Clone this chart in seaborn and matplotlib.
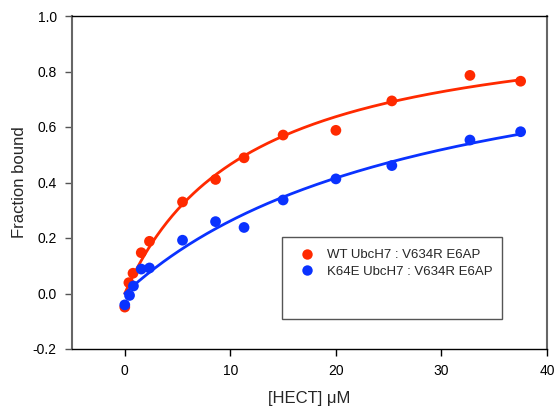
import numpy as np
import pandas as pd
import seaborn as sns
import matplotlib
matplotlib.use("Agg")
import matplotlib.pyplot as plt
from matplotlib.lines import Line2D
from matplotlib.patches import Rectangle

# HECT concentration (uM) and measured fraction bound
hect_wt = [0.0, 0.39, 0.78, 1.56, 2.34, 5.47, 8.6, 11.3, 15.0, 20.0, 25.3, 32.7, 37.5]
bound_wt = [-0.049, 0.039, 0.073, 0.147, 0.188, 0.330, 0.411, 0.489, 0.571, 0.588, 0.694, 0.786, 0.765]

hect_k64e = [0.0, 0.45, 0.82, 1.56, 2.34, 5.47, 8.6, 11.3, 15.0, 20.0, 25.3, 32.7, 37.5]
bound_k64e = [-0.041, -0.007, 0.027, 0.088, 0.092, 0.192, 0.259, 0.238, 0.337, 0.413, 0.461, 0.553, 0.583]

labels = ["WT UbcH7 : V634R E6AP", "K64E UbcH7 : V634R E6AP"]
colors = ["#ff2a00", "#0a32ff"]

x_ticks = [0, 10, 20, 30, 40]
y_ticks = [-0.2, 0.0, 0.2, 0.4, 0.6, 0.8, 1.0]


def fit_binding(x, y):
    """Least-squares single-site binding fit y = Bmax*x/(Kd+x)."""
    x = np.asarray(x, float)
    y = np.asarray(y, float)
    best = None
    for kd in np.linspace(0.5, 100, 4000):
        f = x / (kd + x)
        bmax = np.dot(f, y) / np.dot(f, f)
        err = np.sum((y - bmax * f) ** 2)
        if best is None or err < best[0]:
            best = (err, bmax, kd)
    return best[1], best[2]


df = pd.concat([
    pd.DataFrame({"hect": hect_wt, "bound": bound_wt, "series": labels[0]}),
    pd.DataFrame({"hect": hect_k64e, "bound": bound_k64e, "series": labels[1]}),
])

sns.set_theme(style="ticks")
plt.rcParams["font.family"] = ["Liberation Sans", "DejaVu Sans"]

W, H = 557, 412
fig = plt.figure(figsize=(W / 100, H / 100), dpi=100)
ax = fig.add_axes([72 / W, 1 - 349 / H, (547 - 72) / W, (349 - 16) / H])

for xs, ys, lab, col in zip([hect_wt, hect_k64e], [bound_wt, bound_k64e], labels, colors):
    bmax, kd = fit_binding(xs, ys)
    xf = np.linspace(0, max(xs), 300)
    ax.plot(xf, bmax * xf / (kd + xf), color=col, lw=2.0, zorder=2)

sns.scatterplot(data=df, x="hect", y="bound", hue="series", palette=colors,
                hue_order=labels, s=60, edgecolor="none", linewidth=0,
                legend=False, ax=ax, zorder=3)

ax.set_xlim(-5, 40)
ax.set_ylim(-0.2, 1.0)
ax.set_xticks(x_ticks)
ax.set_yticks(y_ticks)
ax.set_xticklabels([str(t) for t in x_ticks])
ax.set_yticklabels([f"{t:.1f}" for t in y_ticks])
ax.tick_params(axis="both", direction="out", length=5, width=1, labelsize=10,
               colors="black", pad=6)
ax.tick_params(axis="y", color="#555555")

for side in ["top", "bottom"]:
    ax.spines[side].set_color("black")
    ax.spines[side].set_linewidth(1.0)
for side in ["left", "right"]:
    ax.spines[side].set_color("#666666")
    ax.spines[side].set_linewidth(1.5)

ax.set_xlabel("[HECT] \u03bcM", fontsize=12, labelpad=9)
ax.set_ylabel("Fraction bound", fontsize=12, labelpad=4)

# legend box (figure pixels), with the entries listed at its top
bx0, by0, bx1, by1 = 282, 237, 502, 319
fig.add_artist(Rectangle((bx0 / W, 1 - by1 / H), (bx1 - bx0) / W, (by1 - by0) / H,
                         transform=fig.transFigure, fill=True, facecolor="white",
                         edgecolor="#555555", linewidth=1.0, zorder=4))

handles = [Line2D([], [], marker="o", ls="none", color=c, markersize=7.5, markeredgewidth=0)
           for c in colors]
leg = fig.legend(handles, labels, loc="upper left",
                 bbox_to_anchor=((bx0 + 17) / W, 1 - (by0 + 12) / H),
                 frameon=False, fontsize=9.5, handletextpad=0.9,
                 borderpad=0, labelspacing=0.35, borderaxespad=0, handlelength=1.2)
leg.set_zorder(5)

fig.savefig("out.png", dpi=100)
